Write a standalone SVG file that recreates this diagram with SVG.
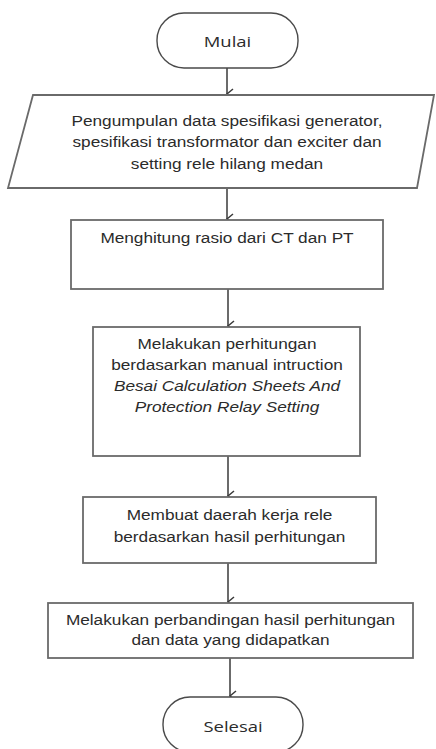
<svg xmlns="http://www.w3.org/2000/svg" width="436" height="749" viewBox="0 0 436 749">
<defs>
<style>
.box{fill:#fff;stroke:#6a6a6a;stroke-width:1.8}
.term{fill:#fff;stroke:#4a4a4a;stroke-width:1.4}
.t{font-family:"Liberation Sans",Arial,sans-serif;font-size:14px;fill:#2b2b2b;text-anchor:middle}
.ti{font-style:italic}
.tt{font-family:"Open Sans","Liberation Sans",sans-serif;font-size:15px;fill:#2b2b2b;text-anchor:middle}
.c{fill:none;stroke:#3a3a3a;stroke-width:1.5}
</style>
<marker id="ah" markerWidth="12" markerHeight="12" refX="6" refY="9" orient="auto" markerUnits="userSpaceOnUse" viewBox="0 0 12 12">
<path d="M1,3 L6,9 L11,3" fill="none" stroke="#3a3a3a" stroke-width="1.5"/>
</marker>
</defs>
<rect width="436" height="749" fill="#fff"/>
<g id="connectors">
<line class="c" x1="227" y1="68" x2="227" y2="94" marker-end="url(#ah)"/>
<line class="c" x1="227" y1="188" x2="227" y2="219" marker-end="url(#ah)"/>
<line class="c" x1="228" y1="289" x2="228" y2="326" marker-end="url(#ah)"/>
<line class="c" x1="228" y1="456" x2="228" y2="496" marker-end="url(#ah)"/>
<line class="c" x1="228" y1="563" x2="228" y2="602" marker-end="url(#ah)"/>
<line class="c" x1="230" y1="658" x2="230" y2="696" marker-end="url(#ah)"/>
</g>
<g id="mulai">
<rect class="term" x="157" y="13" width="141" height="55" rx="27" ry="27"/>
<text class="tt" transform="translate(227.5,0) scale(1.23,1)" x="0" y="47">Mulai</text>
</g>
<g id="input-data">
<polygon class="box" points="33,95 434,95 417,188 8,188"/>
<g transform="translate(227,0) scale(1.23,1)">
<text class="t" x="0" y="126">Pengumpulan data spesifikasi generator,</text>
<text class="t" x="0" y="147.5">spesifikasi transformator dan exciter dan</text>
<text class="t" x="0" y="169">setting rele hilang medan</text>
</g>
</g>
<g id="rasio">
<rect class="box" x="71" y="220" width="312" height="69"/>
<text class="t" transform="translate(227,0) scale(1.23,1)" x="0" y="243">Menghitung rasio dari CT dan PT</text>
</g>
<g id="perhitungan">
<rect class="box" x="93" y="327" width="267" height="129"/>
<g transform="translate(227,0) scale(1.23,1)">
<text class="t" x="0" y="349">Melakukan perhitungan</text>
<text class="t" x="0" y="370">berdasarkan manual intruction</text>
<text class="t ti" x="0" y="391">Besai Calculation Sheets And</text>
<text class="t ti" x="0" y="412">Protection Relay Setting</text>
</g>
</g>
<g id="daerah-kerja">
<rect class="box" x="83" y="497" width="293" height="66"/>
<g transform="translate(229.5,0) scale(1.23,1)">
<text class="t" x="0" y="520">Membuat daerah kerja rele</text>
<text class="t" x="0" y="542">berdasarkan hasil perhitungan</text>
</g>
</g>
<g id="perbandingan">
<rect class="box" x="48" y="603" width="365" height="55"/>
<g transform="translate(230.5,0) scale(1.23,1)">
<text class="t" x="0" y="625">Melakukan perbandingan hasil perhitungan</text>
<text class="t" x="0" y="645">dan data yang didapatkan</text>
</g>
</g>
<g id="selesai">
<rect class="term" x="163" y="697" width="140" height="55" rx="27" ry="27"/>
<text class="tt" transform="translate(233,0) scale(1.23,1)" x="0" y="732">Selesai</text>
</g>
</svg>
